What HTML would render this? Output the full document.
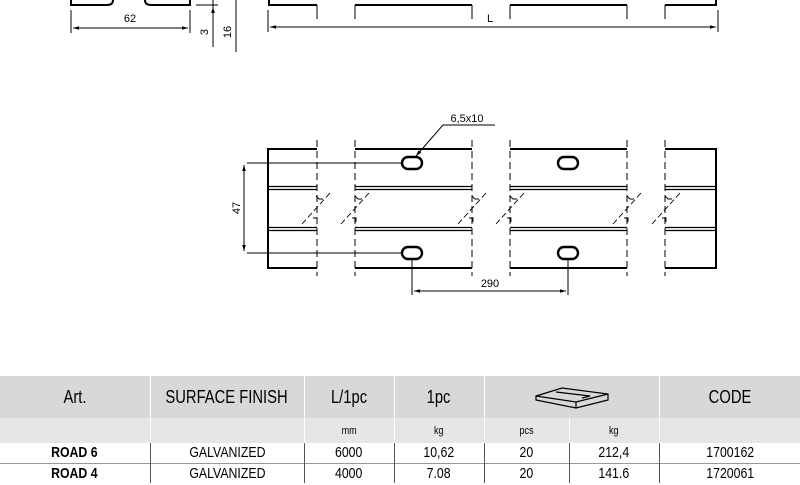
<!DOCTYPE html>
<html><head><meta charset="utf-8"><style>
body{margin:0;width:800px;height:485px;background:#fff;overflow:hidden;font-family:"Liberation Sans",sans-serif}
svg{position:absolute;left:0;top:0}
table{position:absolute;left:0;top:376px;width:800px;border-collapse:collapse;font-family:"Liberation Sans",sans-serif;table-layout:fixed}
td{text-align:center;padding:0;border-left:1px solid #fff;white-space:nowrap}
td span{display:inline-block;transform:scaleX(0.82)}
</style></head><body>
<svg width="800" height="375" viewBox="0 0 800 375" font-family="Liberation Sans, sans-serif" font-size="11">
<defs><marker id="a" viewBox="0 0 10 10" refX="10" refY="5" markerWidth="8" markerHeight="6" orient="auto-start-reverse"><path d="M0,2L10,5L0,8z" fill="#000"/></marker></defs>
<g stroke="#000" fill="none">
<path d="M71,0V5H107Q113,5 113,0" stroke-width="2"/>
<path d="M145,0Q145,5 151,5H190V0" stroke-width="2"/>
<path d="M196,5H218" stroke-width="1"/>
<path d="M71,10V33M190,10V33M213,0V47M236,0V52" stroke-width="1"/>
<path d="M73,28H188" marker-start="url(#a)" marker-end="url(#a)"/>
<path d="M213,20V7" marker-end="url(#a)"/>
<path d="M269,0V5H317M355,5H472M510,5H627M665,5H716V0" stroke-width="2"/>
<path d="M317,5V19M355,5V19M472,5V19M510,5V19M627,5V19M665,5V19"/>
<path d="M268,10V32M718,10V32"/>
<path d="M270,27H716" marker-start="url(#a)" marker-end="url(#a)"/>
<g stroke-width="2">
<path d="M317,149H268V268H317"/>
<path d="M355,149H472M355,268H472M510,149H627M510,268H627"/>
<path d="M665,149H716V268H665"/>
</g>
<g stroke-width="2.4">
<rect x="402" y="157" width="20" height="12" rx="6"/>
<rect x="402" y="247" width="20" height="12" rx="6"/>
<rect x="558" y="157" width="20" height="12" rx="6"/>
<rect x="558" y="247" width="20" height="12" rx="6"/>
</g>
<g stroke-width="1.2">
<path d="M268,186.5H317M355,186.5H472M510,186.5H627M665,186.5H716"/>
<path d="M268,189.5H317M355,189.5H472M510,189.5H627M665,189.5H716"/>
<path d="M268,227.5H317M355,227.5H472M510,227.5H627M665,227.5H716"/>
<path d="M268,230.5H317M355,230.5H472M510,230.5H627M665,230.5H716"/>
</g>
<g stroke-dasharray="7,4">
<path d="M317,140V276M355,140V276M472,140V276M510,140V276M627,140V276M665,140V276"/>
</g>
<g stroke-dasharray="6,3" stroke-width="0.9">
<path d="M330,193L302,224M369,193L341,224M486,193L458,224M524,193L496,224M641,193L613,224M680,193L652,224"/>
</g>
<g stroke-width="0.9">
<path d="M316,196l3,3h4M355,196l3,3h4M472,196l3,3h4M510,196l3,3h4M627,196l3,3h4M665,196l3,3h4"/>
<path d="M313,218h4v4M352,218h4v4M469,218h4v4M507,218h4v4M624,218h4v4M662,218h4v4"/>
</g>
<path d="M247,163H402M247,253H402"/>
<path d="M244,165V251" marker-start="url(#a)" marker-end="url(#a)"/>
<path d="M412,259V295M568,259V295"/>
<path d="M414,291H566" marker-start="url(#a)" marker-end="url(#a)"/>
<path d="M495,125H443L416,156" marker-end="url(#a)"/>
</g>
<text x="130" y="22" text-anchor="middle">62</text>
<text x="490" y="22" text-anchor="middle">L</text>
<text transform="translate(208,32) rotate(-90)" text-anchor="middle">3</text>
<text transform="translate(231,32) rotate(-90)" text-anchor="middle">16</text>
<text transform="translate(240,208) rotate(-90)" text-anchor="middle">47</text>
<text x="467" y="122" text-anchor="middle">6,5x10</text>
<text x="490" y="287" text-anchor="middle">290</text>
</svg>
<table style="font-size:18px">
<colgroup><col style="width:150px"><col style="width:154px"><col style="width:90px"><col style="width:90px"><col style="width:85px"><col style="width:90px"><col style="width:141px"></colgroup>
<tr style="background:#d8d8d8;height:42px">
<td style="border-left:none"><span>Art.</span></td><td><span>SURFACE FINISH</span></td><td><span>L/1pc</span></td><td><span>1pc</span></td>
<td colspan="2"><svg width="80" height="26" viewBox="0 0 80 26" style="position:static;vertical-align:middle"><g fill="none" stroke="#000" stroke-width="1.2"><path d="M4,12L30,4L76,10L76,16L44,24L4,16Z"/><path d="M4,12L44,18L76,10M44,18V24"/><path d="M24,8L58,12L50,14" /></g></svg></td>
<td><span>CODE</span></td></tr>
<tr style="background:#e6e6e6;height:25px;font-size:11px">
<td style="border-left:none"></td><td></td><td><span>mm</span></td><td><span>kg</span></td><td><span>pcs</span></td><td><span>kg</span></td><td></td></tr>
<tr style="height:20px;font-size:15px;border-bottom:1px solid #999">
<td style="font-weight:bold;border-left:none"><span>ROAD 6</span></td><td style="border-left:1px solid #555"><span>GALVANIZED</span></td><td style="border-left:1px solid #555"><span>6000</span></td><td style="border-left:1px solid #555"><span>10,62</span></td><td style="border-left:1px solid #555"><span>20</span></td><td style="border-left:1px solid #555"><span>212,4</span></td><td style="border-left:1px solid #555"><span>1700162</span></td></tr>
<tr style="height:20px;font-size:15px">
<td style="font-weight:bold;border-left:none"><span>ROAD 4</span></td><td style="border-left:1px solid #555"><span>GALVANIZED</span></td><td style="border-left:1px solid #555"><span>4000</span></td><td style="border-left:1px solid #555"><span>7.08</span></td><td style="border-left:1px solid #555"><span>20</span></td><td style="border-left:1px solid #555"><span>141.6</span></td><td style="border-left:1px solid #555"><span>1720061</span></td></tr>
</table>
</body></html>
